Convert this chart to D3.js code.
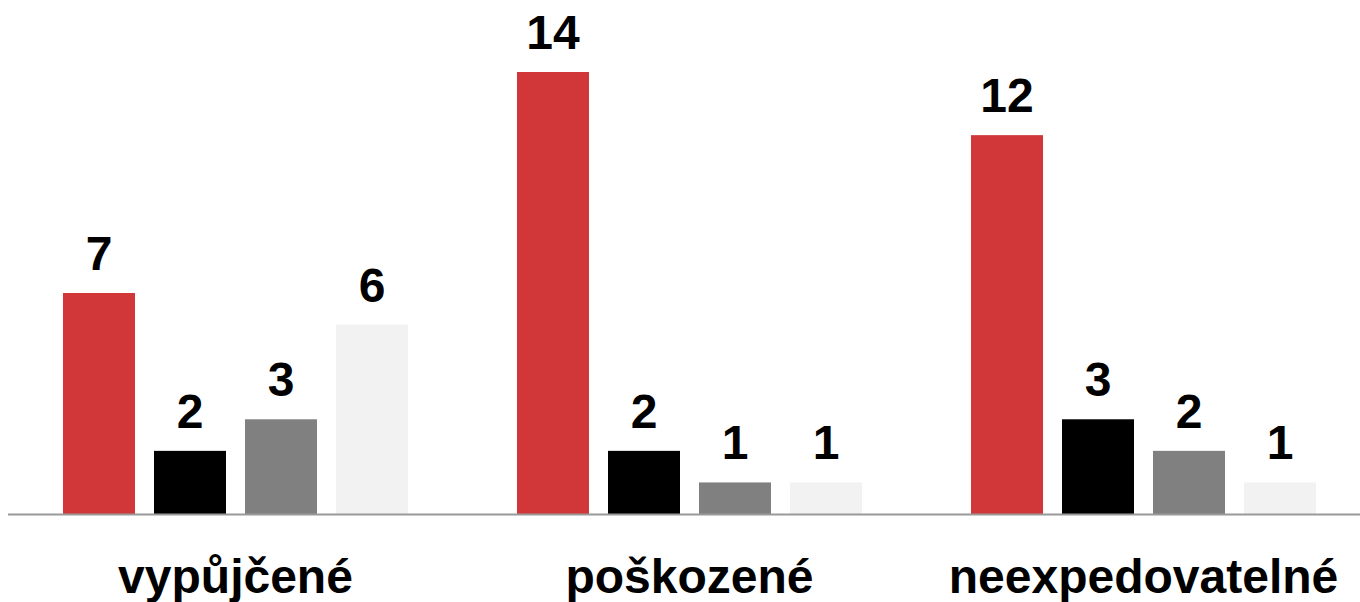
<!DOCTYPE html>
<html><head><meta charset="utf-8">
<script src="https://cdn.jsdelivr.net/npm/d3@7"></script>
<style>body{margin:0;background:#fff}svg{display:block}</style>
</head><body>
<svg id="chart" width="1360" height="602"></svg>
<script>
const categories = ["vypůjčené", "poškozené", "neexpedovatelné"];
const seriesNames = ["s1", "s2", "s3", "s4"];
const series1 = [7, 14, 12];
const series2 = [2, 2, 3];
const series3 = [3, 1, 2];
const series4 = [6, 1, 1];
const colors = ["#d13639", "#000000", "#808080", "#f2f2f2"];

const allSeries = [series1, series2, series3, series4];
const data = categories.map((c, i) => ({cat: c, values: allSeries.map((s, j) => ({key: seriesNames[j], value: s[i]}))}));

const svg = d3.select("#chart");
const baseY = 514;
const x0 = d3.scaleBand().domain(categories).range([8.5, 1370.5]).padding(0);
const x1 = d3.scaleBand().domain(seriesNames).range([54.5, 399.5]).paddingInner(19/91).paddingOuter(0);
const y = d3.scaleLinear().domain([0, 14]).range([baseY, 72]);
const color = d3.scaleOrdinal().domain(seriesNames).range(colors);
const font = "'Liberation Sans', Arial, sans-serif";

const g = svg.selectAll("g.grp").data(data).join("g").attr("class", "grp")
  .attr("transform", d => `translate(${x0(d.cat)},0)`);

g.selectAll("rect").data(d => d.values).join("rect")
  .attr("x", d => x1(d.key)).attr("width", x1.bandwidth())
  .attr("y", d => y(d.value)).attr("height", d => y(0) - y(d.value))
  .attr("fill", d => color(d.key));

g.selectAll("text.val").data(d => d.values).join("text").attr("class", "val")
  .attr("x", d => x1(d.key) + x1.bandwidth() / 2)
  .attr("y", d => y(d.value) - 23)
  .attr("text-anchor", "middle")
  .attr("font-family", font).attr("font-weight", 700).attr("font-size", 48)
  .attr("fill", "#000")
  .text(d => d.value);

const xAxis = d3.axisBottom(x0).tickSize(0).tickPadding(0);
const ax = svg.append("g").attr("transform", `translate(0,${baseY})`).call(xAxis);
ax.select(".domain").attr("d", `M8,0.5H1360`).attr("stroke", "#999").attr("stroke-width", 2);
ax.selectAll("text").attr("dy", 0).attr("y", 79)
  .attr("font-family", font).attr("font-weight", 700).attr("font-size", 48).attr("fill", "#000");
</script>
</body></html>
